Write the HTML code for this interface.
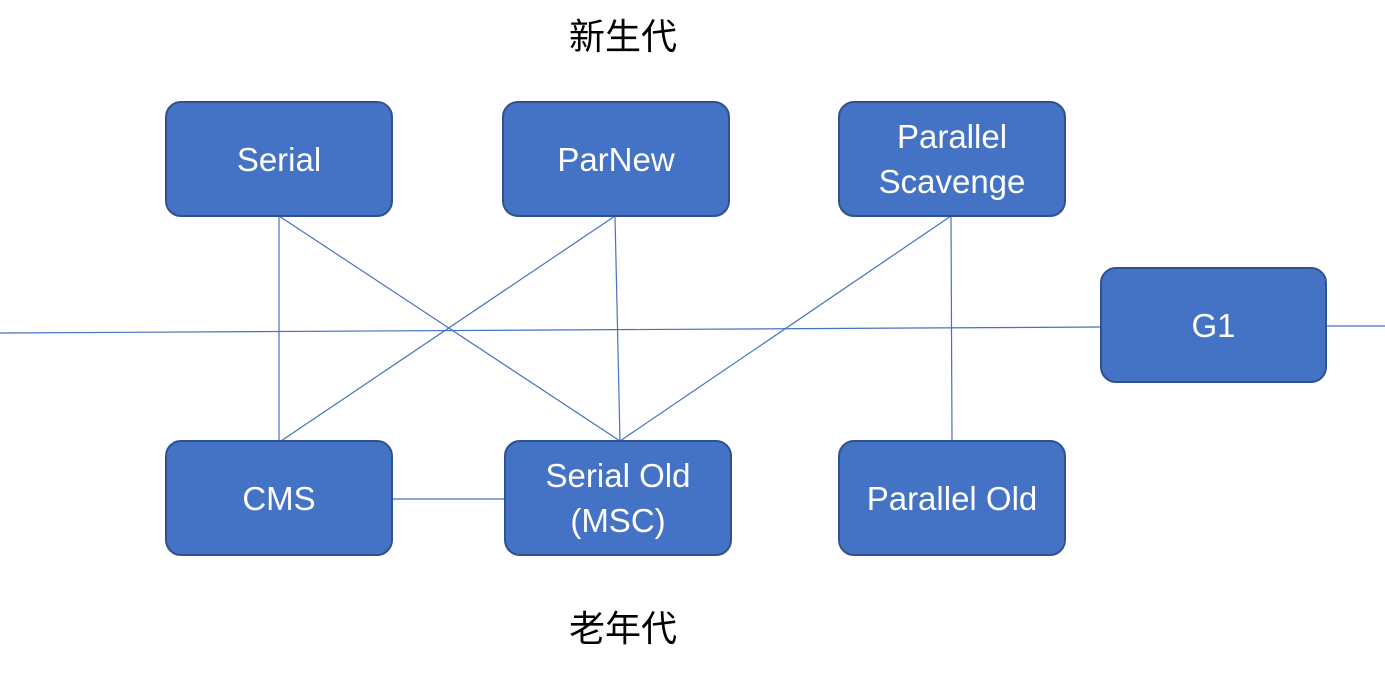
<!DOCTYPE html>
<html><head><meta charset="utf-8"><style>
html,body{margin:0;padding:0;background:#fff;}
body{width:1385px;height:674px;position:relative;overflow:hidden;font-family:"Liberation Sans","Noto Sans CJK SC",sans-serif;}
.b{position:absolute;background:#4472c4;border:2px solid #2f528f;border-radius:16px;color:#fff;font-size:33px;display:flex;align-items:center;justify-content:center;text-align:center;line-height:45px;box-sizing:border-box;}
.t{position:absolute;font-size:36px;color:#000;font-family:"Noto Sans CJK SC",sans-serif;}
svg{position:absolute;left:0;top:0;}
</style></head><body>
<svg width="1385" height="674"><g stroke="#4472c4" stroke-width="1.2" fill="none">
<line x1="0" y1="333" x2="1102" y2="327"/>
<line x1="1326" y1="326" x2="1385" y2="326"/>
<line x1="279" y1="216" x2="279" y2="441"/>
<line x1="279" y1="216" x2="620" y2="441"/>
<line x1="615" y1="216" x2="281" y2="441"/>
<line x1="615" y1="216" x2="620" y2="441"/>
<line x1="951" y1="216" x2="620" y2="441"/>
<line x1="951" y1="216" x2="952" y2="441"/>
<line x1="391" y1="499" x2="505" y2="499"/>
</g></svg>
<div class="t" style="left:569px;top:8px">新生代</div>
<div class="t" style="left:569px;top:600px">老年代</div>
<div class="b" style="left:165px;top:101px;width:228px;height:116px">Serial</div>
<div class="b" style="left:502px;top:101px;width:228px;height:116px">ParNew</div>
<div class="b" style="left:838px;top:101px;width:228px;height:116px">Parallel<br>Scavenge</div>
<div class="b" style="left:1100px;top:267px;width:227px;height:116px">G1</div>
<div class="b" style="left:165px;top:440px;width:228px;height:116px">CMS</div>
<div class="b" style="left:504px;top:440px;width:228px;height:116px">Serial Old<br>(MSC)</div>
<div class="b" style="left:838px;top:440px;width:228px;height:116px">Parallel Old</div>
</body></html>
